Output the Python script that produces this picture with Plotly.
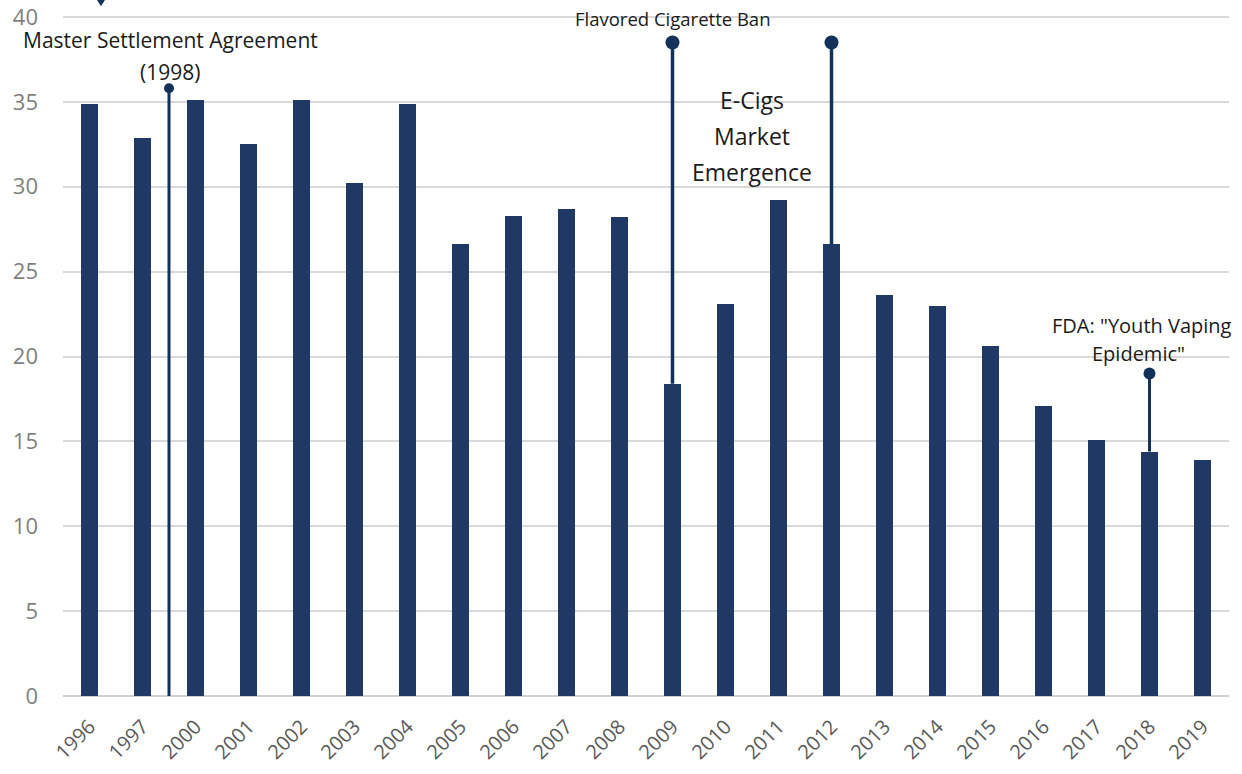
import plotly.graph_objects as go

# Youth smoking rate by survey year
years = ["1996", "1997", "2000", "2001", "2002", "2003", "2004", "2005", "2006", "2007",
         "2008", "2009", "2010", "2011", "2012", "2013", "2014", "2015", "2016", "2017",
         "2018", "2019"]
rates = [34.9, 32.9, 35.1, 32.5, 35.1, 30.2, 34.9, 26.6, 28.3, 28.7,
         28.2, 18.4, 23.1, 29.2, 26.6, 23.6, 23.0, 20.6, 17.1, 15.1,
         14.4, 13.9]

# Policy / market events: position on the year axis, stem base, stem top
event_pos = [1.5, 11, 14, 20]
event_base = [0, 18.4, 26.6, 14.4]
event_top = [35.8, 38.5, 38.5, 19.0]
event_dot = [10, 14, 14, 12]
event_width = [3, 3.5, 3.5, 3]

BAR = "#203864"
STEM = "#12325a"
TXT = "#1a1a1a"
ANN_FONT = "Open Sans"

idx = list(range(len(years)))

fig = go.Figure()
fig.add_trace(go.Bar(x=idx, y=rates, marker=dict(color=BAR, line=dict(width=0)),
                     width=0.32, hoverinfo="x+y"))

for p, b, t, d, w in zip(event_pos, event_base, event_top, event_dot, event_width):
    fig.add_trace(go.Scatter(x=[p, p], y=[b, t], mode="lines",
                             line=dict(color=STEM, width=w), hoverinfo="skip"))
    fig.add_trace(go.Scatter(x=[p], y=[t], mode="markers",
                             marker=dict(color=STEM, size=d), hoverinfo="skip"))

labels = [
    ("Master Settlement Agreement", 1.52, 38.62, 21),
    ("(1998)", 1.52, 36.76, 21),
    ("Flavored Cigarette Ban", 11.0, 39.94, 18.5),
    ("E-Cigs", 12.5, 35.11, 23),
    ("Market", 12.5, 32.99, 23),
    ("Emergence", 12.5, 30.87, 23),
    ("FDA: \"Youth Vaping", 19.86, 21.8, 20),
    ("Epidemic\"", 19.8, 20.15, 20),
]
for text, x, y, s in labels:
    fig.add_annotation(x=x, y=y, text=text, showarrow=False,
                       font=dict(family=ANN_FONT, size=s, color=TXT),
                       xanchor="center", yanchor="middle")

# small marker tip peeking in at the top edge
fig.add_shape(type="path", xref="paper", yref="paper",
              path="M 0.0272 1.027 L 0.0378 1.027 L 0.0326 1.013 Z",
              fillcolor=STEM, line=dict(width=0))

fig.update_layout(
    width=1242, height=774,
    margin=dict(l=63, r=13, t=15, b=78, autoexpand=False),
    paper_bgcolor="white", plot_bgcolor="white",
    showlegend=False, bargap=0,
    xaxis=dict(tickmode="array", tickvals=idx, ticktext=years,
               range=[-0.5, len(years) - 0.5], tickangle=-45, automargin=False,
               tickfont=dict(family="Open Sans", size=20, color="#595959"),
               ticklabelstandoff=14,
               showgrid=False, zeroline=False, showline=False, ticks=""),
    yaxis=dict(range=[0, 40.12], tickmode="array", tickvals=[0, 5, 10, 15, 20, 25, 30, 35, 40],
               showgrid=True, gridcolor="#d9d9d9", gridwidth=2, automargin=False,
               zeroline=True, zerolinecolor="#d0d0d0", zerolinewidth=2,
               tickfont=dict(family="Open Sans", size=22, color="#7f7f7f"),
               ticklabelstandoff=24, showline=False, ticks=""),
)

fig.write_html("out.html")
